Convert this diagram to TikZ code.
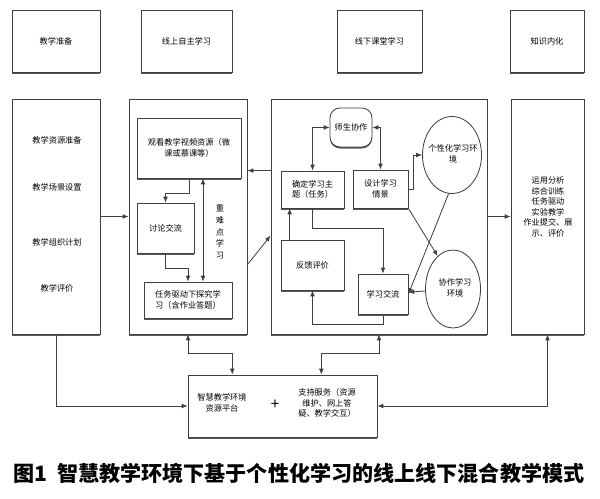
\documentclass[tikz,border=0pt]{standalone}
\usepackage{fontspec}
\setmainfont{Noto Sans CJK SC}
\usetikzlibrary{shapes.geometric,shadows,arrows.meta}

\begin{document}
\begin{tikzpicture}[x=0.3mm, y=-0.3mm, >={Latex[length=5pt,width=4pt]},
  wh/.style 2 args={minimum width=#1*0.3mm, minimum height=#2*0.3mm},
  box/.style={shape=rectangle, draw=black!75, line width=0.7pt, fill=white, inner sep=0pt, align=center, font=\fontsize{7}{9}\selectfont, drop shadow={shadow xshift=0pt, shadow yshift=-1.3pt, fill=black!65, opacity=1}},
  env/.style={shape=ellipse, draw=black!75, line width=0.7pt, fill=white, inner sep=0pt},
  txt/.style={align=center, inner sep=1pt, font=\fontsize{7}{9}\selectfont},
  link/.style={draw=black!75, line width=0.7pt}]
  \useasboundingbox (0, 0) rectangle (600, 499);
  \node (hprep) at (56, 41) [box, wh={88}{62}] {教学准备};
  \node (honline) at (186.5, 41) [box, wh={91}{62}] {线上自主学习};
  \node (hoffline) at (379.5, 41) [box, wh={85}{62}] {线下课堂学习};
  \node (hintern) at (547, 41) [box, wh={74}{62}] {知识内化};
  \node (prep) at (56, 216.5) [box, wh={88}{235}] {};
  \node (online) at (188, 216.5) [box, wh={118}{235}] {};
  \node (offline) at (379, 216.5) [box, wh={216}{235}] {};
  \node (intern) at (547.5, 216.5) [box, wh={73}{235}] {};
  \node (res) at (57, 140) [txt] {教学资源准备};
  \node (scene) at (57, 187) [txt] {教学场景设置};
  \node (plan) at (57, 242) [txt] {教学组织计划};
  \node (eval) at (57, 288) [txt] {教学评价};
  \node (watch) at (189, 148) [box, wh={104}{60}] {观看教学视频资源（微\\课或慕课等）};
  \node (discuss) at (165.5, 228) [box, wh={57}{50}] {讨论交流};
  \node (task) at (188, 300) [box, wh={88}{36}] {任务驱动下探究学\\习（含作业答题）};
  \node (keytext) at (220, 232) [txt, font=\fontsize{7}{10}\selectfont] {重\\难\\点\\学\\习};
  \coordinate (keyline) at (203, 232);
  \node (collab) at (351, 127.5) [box, rounded corners=3mm, wh={42}{39}] {师生协作};
  \node (topic) at (312.5, 189.5) [box, wh={63}{37}] {确定学习主\\题（任务）};
  \node (design) at (380.5, 189) [box, wh={55}{38}] {设计学习\\情景};
  \node (feedback) at (312.5, 265) [box, wh={63}{50}] {反馈评价};
  \node (exchange) at (383, 294) [box, wh={50}{40}] {学习交流};
  \node (pers) at (452, 155) [env, wh={59}{77}] {};
  \node (perstext) at (453, 154) [txt] {个性化学习环\\境};
  \node (coop) at (453, 289) [env, wh={55}{78}] {};
  \node (cooptext) at (455, 288) [txt] {协作学习\\环境};
  \node (skills) at (548, 207) [txt] {运用分析\\综合训练\\任务驱动\\实验教学\\作业提交、展\\示、评价};
  \node (platform) at (282.5, 406) [box, wh={189}{62}] {};
  \node (platformtext) at (222, 403) [txt] {智慧教学环境\\资源平台};
  \node (plus) at (275, 405) [txt, font=\fontsize{13}{13}\selectfont] {+};
  \node (support) at (327, 403) [txt] {支持服务（资源\\维护、网上答\\疑、教学交互）};
  \node (caption) at (299, 473) [font=\fontsize{18}{20}\selectfont\bfseries, inner sep=0pt] {图1\ \ 智慧教学环境下基于个性化学习的线上线下混合教学模式};
  \draw[link, ->] (prep.east) -- (online.west);
  \draw[link, ->] (offline.west |- topic.north) -- (online.east |- topic.north);
  \draw[link, ->] (online.-39) -- (offline.190);
  \draw[link, ->] (offline.east) -- (intern.west);
  \draw[link, ->] (watch.south) -- ++(0, 15) -| (discuss.north);
  \draw[link, ->] (discuss.south) -- ++(0, 15) -| (task.north);
  \draw[link, <->] (watch.south -| keyline) -- (task.north -| keyline);
  \draw[link, <->] (collab.west) -| (topic.north);
  \draw[link, <->] (collab.east) -| (design.north);
  \draw[link, ->] (design.east) -- ++(5, 0) |- (pers.west);
  \draw[link, ->] (design.south east) -- (coop.115);
  \draw[link, ->] (pers.265) -- (exchange.east);
  \draw[link, ->] (coop) -- (exchange);
  \draw[link, ->] (topic.south) -- ++(0, 20) -| (exchange.north);
  \draw[link, ->] (exchange.south) -- ++(0, 10) -| (feedback.south);
  \draw[link, ->] (feedback.132) -- (feedback.132 |- topic.south);
  \draw[link, ->] (prep.south) |- (platform.west);
  \draw[link, <->] (online.south) -- ++(0, 19) -| (platform.148);
  \draw[link, <->] (offline.south) -- ++(0, 19) -| (platform.39);
  \draw[link, <->] (intern.south) |- (platform.east);
\end{tikzpicture}
\end{document}
